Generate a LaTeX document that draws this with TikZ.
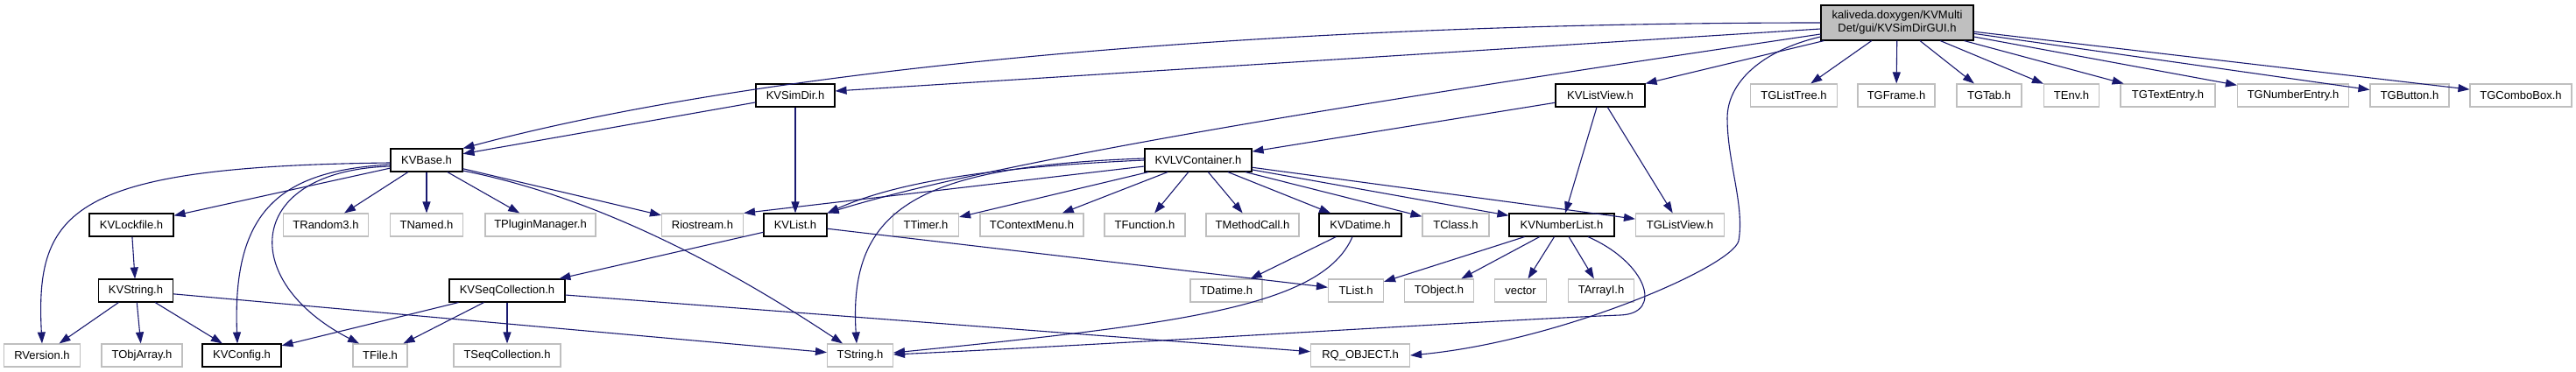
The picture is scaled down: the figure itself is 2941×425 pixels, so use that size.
\documentclass[tikz,border=0pt]{standalone}
\usepackage{fontspec}
\setmainfont{Liberation Sans}
\usetikzlibrary{arrows.meta,calc}
\definecolor{edgec}{HTML}{191970}
\definecolor{grayb}{HTML}{BFBFBF}
\begin{document}
\begin{tikzpicture}[x=1pt,y=-1pt,
  box/.style={rectangle,inner sep=0pt,minimum height=26pt,font=\fontsize{13}{15}\selectfont,line width=1.1pt},
  kv/.style={box,draw=black},
  ext/.style={box,draw=grayb},
  rootbox/.style={box,draw=black,fill=grayb,minimum height=40pt,align=center},
  e/.style={draw=edgec,line width=1.1pt,-{Triangle[length=13pt,width=9pt]}}]
\fill[white] (0,0) rectangle (2941,425);
\useasboundingbox (0,0) rectangle (2941,425);
% root
\node[rootbox,minimum width=174pt] (kal) at (2166,26) {kaliveda.doxygen/KVMulti\\Det/gui/KVSimDirGUI.h};
% row 2
\node[kv,minimum width=90pt] (kvsimdir) at (908,109) {KVSimDir.h};
\node[kv,minimum width=102pt] (kvlistview) at (1827,109) {KVListView.h};
\node[ext,minimum width=99pt] (tglisttree) at (2048,109) {TGListTree.h};
\node[ext,minimum width=88pt] (tgframe) at (2165,109) {TGFrame.h};
\node[ext,minimum width=74pt] (tgtab) at (2271,109) {TGTab.h};
\node[ext,minimum width=63pt] (tenv) at (2365,109) {TEnv.h};
\node[ext,minimum width=108pt] (tgtextentry) at (2475,109) {TGTextEntry.h};
\node[ext,minimum width=127pt] (tgnumberentry) at (2618,109) {TGNumberEntry.h};
\node[ext,minimum width=90pt] (tgbutton) at (2751,109) {TGButton.h};
\node[ext,minimum width=116pt] (tgcombobox) at (2878,109) {TGComboBox.h};
% row 3
\node[kv,minimum width=82pt] (kvbase) at (487,183) {KVBase.h};
\node[kv,minimum width=122pt] (kvlv) at (1368,183) {KVLVContainer.h};
% row 4
\node[kv,minimum width=96pt] (kvlockfile) at (150,257) {KVLockfile.h};
\node[ext,minimum width=97pt] (trandom3) at (372,257) {TRandom3.h};
\node[ext,minimum width=83pt] (tnamed) at (487,257) {TNamed.h};
\node[ext,minimum width=126pt] (tplugin) at (617,257) {TPluginManager.h};
\node[ext,minimum width=93pt] (riostream) at (802,257) {Riostream.h};
\node[kv,minimum width=72pt] (kvlist) at (908,257) {KVList.h};
\node[ext,minimum width=75pt] (ttimer) at (1057,257) {TTimer.h};
\node[ext,minimum width=118pt] (tcontext) at (1178,257) {TContextMenu.h};
\node[ext,minimum width=92pt] (tfunction) at (1307,257) {TFunction.h};
\node[ext,minimum width=106pt] (tmethod) at (1430,257) {TMethodCall.h};
\node[kv,minimum width=94pt] (kvdatime) at (1553,257) {KVDatime.h};
\node[ext,minimum width=76pt] (tclass) at (1662,257) {TClass.h};
\node[kv,minimum width=120pt] (kvnl) at (1783,257) {KVNumberList.h};
\node[ext,minimum width=101pt] (tglistview) at (1918,257) {TGListView.h};
% row 5
\node[kv,minimum width=85pt] (kvstring) at (155,332) {KVString.h};
\node[kv,minimum width=132pt] (kvseq) at (579,332) {KVSeqCollection.h};
\node[ext,minimum width=82pt] (tdatime) at (1400,332) {TDatime.h};
\node[ext,minimum width=63pt] (tlist) at (1548,332) {TList.h};
\node[ext,minimum width=79pt] (tobject) at (1643,332) {TObject.h};
\node[ext,minimum width=59pt] (vector) at (1736,332) {vector};
\node[ext,minimum width=75pt] (tarrayi) at (1828,332) {TArrayI.h};
% row 6
\node[ext,minimum width=87pt] (rversion) at (48,406) {RVersion.h};
\node[ext,minimum width=92pt] (tobjarray) at (162,406) {TObjArray.h};
\node[kv,minimum width=90pt] (kvconfig) at (276,406) {KVConfig.h};
\node[ext,minimum width=62pt] (tfile) at (434,406) {TFile.h};
\node[ext,minimum width=122pt] (tseqcoll) at (579,406) {TSeqCollection.h};
\node[ext,minimum width=75pt] (tstring) at (982,406) {TString.h};
\node[ext,minimum width=113pt] (rqobject) at (1553,406) {RQ\_OBJECT.h};

% root edges
\draw[e] (kal.west) .. controls (1500,26) and (900,70) .. (kvbase.north east);
\draw[e] ($(kal.west)+(0,7)$) -- ($(kvsimdir.east)+(0,-5)$);
\draw[e] ($(kal.west)+(0,13)$) .. controls (1600,110) and (1150,180) .. (kvlist.north east);
\draw[e] ($(kal.south west)+(4,0)$) -- (kvlistview.north east);
\draw[e] ($(kal.west)+(0,16)$) .. controls (2010,58) and (1972,95) .. (1972,135)
   .. controls (1972,185) and (1992,235) .. (1985,275)
   .. controls (1978,305) and (1780,390) .. (rqobject.east);
\foreach \t in {tglisttree,tgframe,tgtab,tenv,tgtextentry,tgnumberentry,tgbutton,tgcombobox}
  \draw[e] (kal) -- (\t);
% KVSimDir
\draw[e] (kvsimdir) -- (kvbase);
\draw[e] (kvsimdir) -- (kvlist);
% KVListView
\draw[e] (kvlistview) -- (kvlv);
\draw[e] (kvlistview) -- (kvnl);
\draw[e] (kvlistview) -- (tglistview);
% KVBase
\foreach \t in {kvlockfile,trandom3,tnamed,tplugin,riostream}
  \draw[e] (kvbase) -- (\t);
\draw[e] ($(kvbase.east)+(0,12)$) .. controls (630,215) and (770,265) .. ($(tstring.north)+(-20,0)$);
\draw[e] ($(kvbase.west)+(0,3)$) .. controls (80,190) and (40,240) .. (rversion.north);
\draw[e] ($(kvbase.west)+(0,5)$) .. controls (320,195) and (265,240) .. ($(kvconfig.north)+(-5,0)$);
\draw[e] ($(kvbase.west)+(0,7)$) .. controls (280,195) and (270,320) .. ($(tfile.north)+(-24,0)$);
% KVLockfile
\draw[e] (kvlockfile) -- (kvstring);
% KVString
\foreach \t in {rversion,tobjarray,kvconfig,tstring}
  \draw[e] (kvstring) -- (\t);
% KVList
\draw[e] (kvlist) -- (kvseq);
\draw[e] (kvlist) -- (tlist);
% KVSeqCollection
\foreach \t in {kvconfig,tfile,tseqcoll,rqobject}
  \draw[e] (kvseq) -- (\t);
% KVLVContainer
\draw[e] ($(kvlv.west)+(0,7)$) -- (riostream.north east);
\draw[e] (kvlv.west) .. controls (1150,190) and (1030,205) .. (kvlist.north east);
\draw[e] ($(kvlv.west)+(0,-2)$) .. controls (1050,190) and (968,236) .. ($(tstring.north)+(-4,0)$);
\foreach \t in {ttimer,tcontext,tfunction,tmethod,kvdatime,tclass,kvnl,tglistview}
  \draw[e] (kvlv) -- (\t);
% KVDatime
\draw[e] (kvdatime) -- (tdatime);
\draw[e] ($(kvdatime.south)+(-9,0)$) .. controls (1510,350) and (1350,370) .. ($(tstring.east)+(0,-3)$);
% KVNumberList
\foreach \t in {tlist,tobject,vector,tarrayi}
  \draw[e] (kvnl) -- (\t);
\draw[e] ($(kvnl.south)+(30,0)$) .. controls (1880,300) and (1900,358) .. (1850,360)
   .. controls (1700,366) and (1300,392) .. ($(tstring.east)+(0,-1)$);
\end{tikzpicture}
\end{document}
